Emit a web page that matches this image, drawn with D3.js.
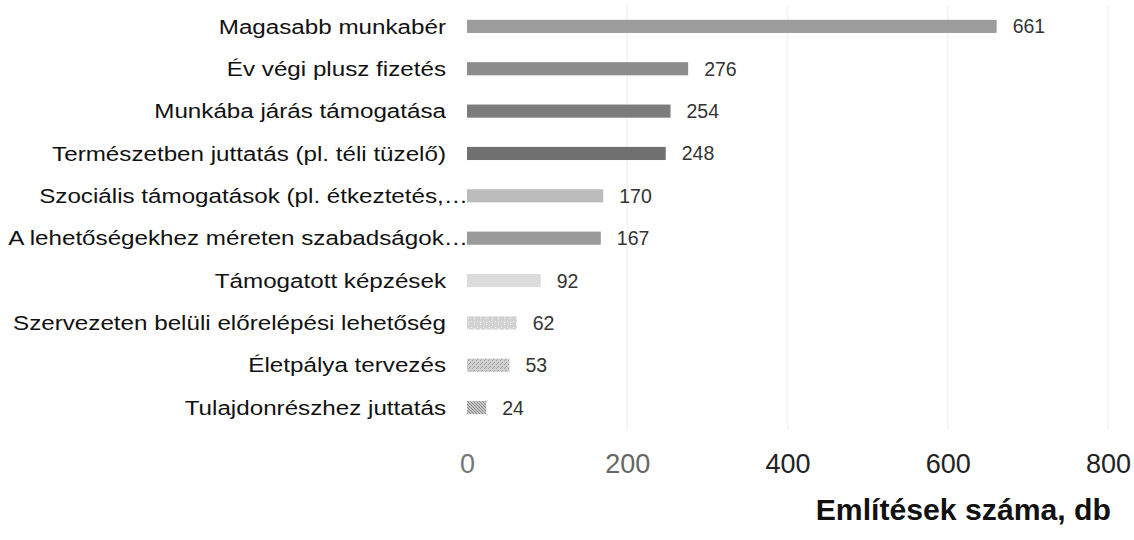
<!DOCTYPE html>
<html><head><meta charset="utf-8">
<script src="https://cdn.jsdelivr.net/npm/d3@7/dist/d3.min.js"></script>
<style>body{margin:0;background:#fff}svg{display:block;font-family:"Liberation Sans",Arial,sans-serif}</style>
</head><body><svg id="c" width="1134" height="540"></svg>
<script>
const categories = ["Magasabb munkabér","Év végi plusz fizetés","Munkába járás támogatása","Természetben juttatás (pl. téli tüzelő)","Szociális támogatások (pl. étkeztetés,…","A lehetőségekhez méreten szabadságok…","Támogatott képzések","Szervezeten belüli előrelépési lehetőség","Életpálya tervezés","Tulajdonrészhez juttatás"];
const values = [661,276,254,248,170,167,92,62,53,24];
const truncated = [false,false,false,false,true,true,false,false,false,false];
const fills = ["#9c9c9c","#8c8c8c","#7c7c7c","#707070","#bcbcbc","#9a9a9a","#dcdcdc","url(#p1)","url(#p2)","url(#p3)"];
const ticks = [0,200,400,600,800];
const tickColors = ["#777","#666","#222","#222","#222"];

const svg = d3.select("#c");
const defs = svg.append("defs");
function pat(id, bg, fg, size, cells){
  const p = defs.append("pattern").attr("id",id).attr("width",size).attr("height",size).attr("patternUnits","userSpaceOnUse");
  p.append("rect").attr("width",size).attr("height",size).attr("fill",bg);
  cells.forEach(c=>p.append("rect").attr("x",c[0]).attr("y",c[1]).attr("width",c[2]).attr("height",c[3]).attr("fill",fg));
}
pat("p1","#d2d2d2","#f4f4f4",6,[[0,0,1,1],[3,3,1,1],[0,4,1,1]]);
pat("p2","#d0d0d0","#a0a0a0",4,[[0,0,1,1],[2,2,1,1],[1,3,1,1]]);
pat("p3","#c8c8c8","#888",3,[[0,0,1,1],[1,1,1,1],[2,2,1,1]]);

const x = d3.scaleLinear().domain([0,800]).range([467,1108]);
const y = d3.scaleBand().domain(categories).range([5,429]).paddingInner(0.69).paddingOuter(0.35);

// gridlines
svg.append("g").selectAll("line").data(ticks.slice(1)).join("line")
  .attr("x1",d=>x(d)).attr("x2",d=>x(d)).attr("y1",5).attr("y2",430)
  .attr("stroke","#f3f3f3").attr("stroke-width",1.5);

svg.append("g").selectAll("rect").data(values).join("rect")
  .attr("x",x(0)).attr("y",(d,i)=>y(categories[i]))
  .attr("width",d=>x(d)-x(0)).attr("height",y.bandwidth())
  .attr("fill",(d,i)=>fills[i]);

svg.append("g").selectAll("text").data(values).join("text")
  .attr("x",d=>x(d)+16).attr("y",(d,i)=>y(categories[i])+y.bandwidth()/2)
  .attr("dy","0.36em").attr("font-size",19.5).attr("fill","#333").text(d=>d);

svg.append("g").selectAll("g").data(categories).join("g")
  .attr("transform",(d,i)=>`translate(${truncated[i]?468:446},${y(d)+y.bandwidth()/2}) scale(1.21,1)`)
  .append("text").attr("dy","0.36em").attr("text-anchor","end").attr("font-size",20).attr("fill","#111").text(d=>d);

const ax = svg.append("g").attr("transform","translate(0,463)")
  .call(d3.axisBottom(x).tickValues(ticks).tickSize(0).tickPadding(0));
ax.select(".domain").remove();
ax.selectAll("text").attr("font-size",27).attr("font-family","Liberation Sans, Arial, sans-serif")
  .attr("dy","0.36em").attr("fill",(d,i)=>tickColors[i]);

svg.append("text").attr("x",1111).attr("y",520).attr("text-anchor","end")
  .attr("font-size",30.2).attr("font-weight","bold").attr("fill","#111").text("Említések száma, db");
</script></body></html>
